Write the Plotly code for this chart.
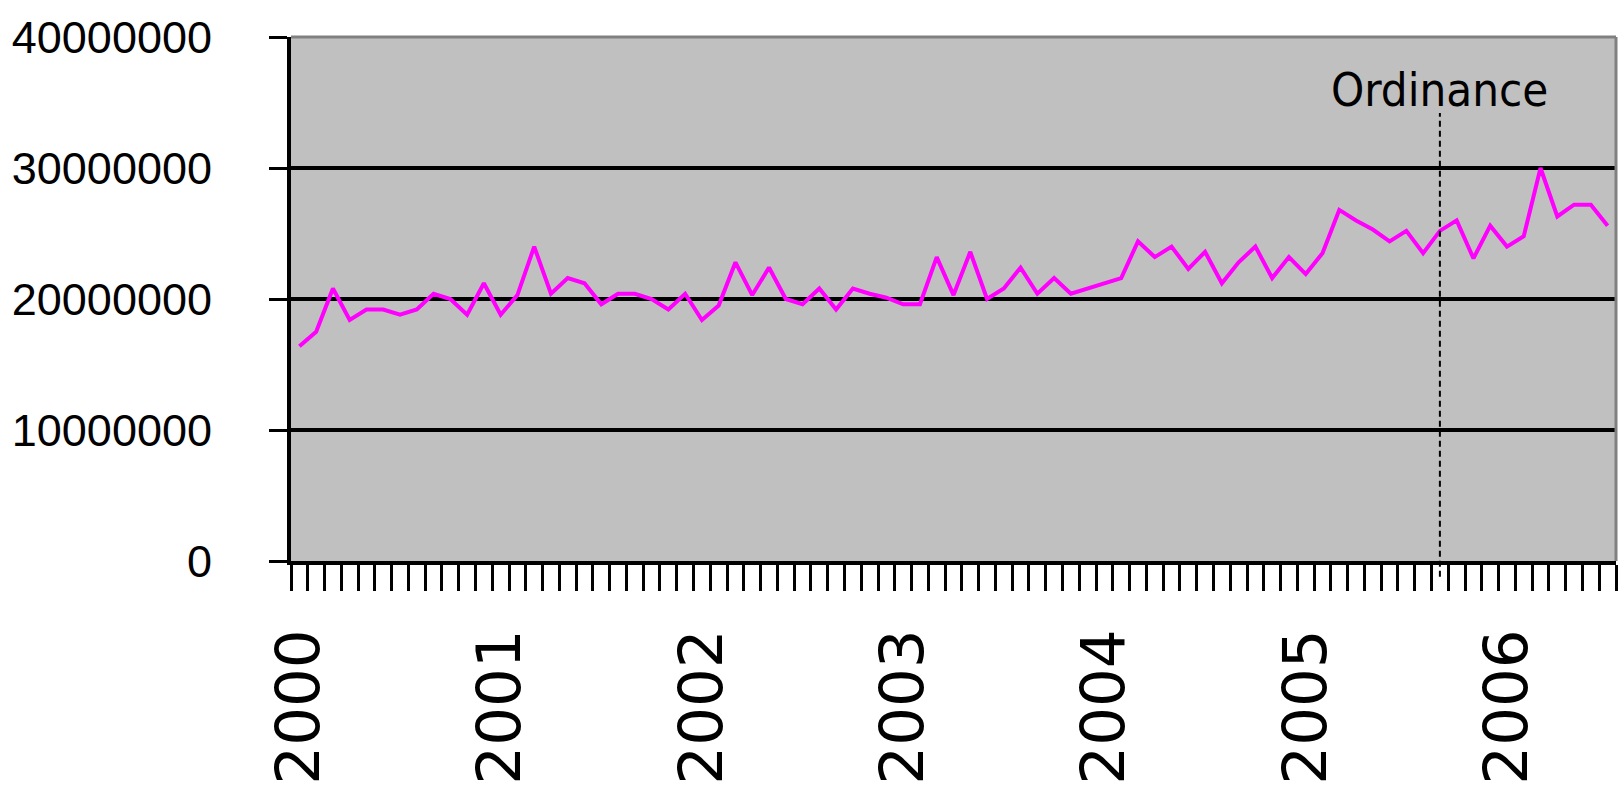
import plotly.graph_objects as go

years = list(range(2000, 2007))
months = [f"{y}-{m:02d}" for y in years for m in range(1, 13)][:79]
values = [
    16.4, 17.5, 20.8, 18.4, 19.2, 19.2, 18.8, 19.2, 20.4, 20.0, 18.8, 21.2,
    18.8, 20.3, 24.0, 20.4, 21.6, 21.2, 19.6, 20.4, 20.4, 20.0, 19.2, 20.4,
    18.4, 19.5, 22.8, 20.3, 22.4, 20.0, 19.6, 20.8, 19.2, 20.8, 20.4, 20.1,
    19.6, 19.6, 23.2, 20.3, 23.6, 20.0, 20.8, 22.4, 20.4, 21.6, 20.4, 20.8,
    21.2, 21.6, 24.4, 23.2, 24.0, 22.3, 23.6, 21.2, 22.8, 24.0, 21.6, 23.2,
    21.9, 23.5, 26.8, 26.0, 25.3, 24.4, 25.2, 23.5, 25.2, 26.0, 23.1, 25.6,
    24.0, 24.8, 30.0, 26.3, 27.2, 27.2, 25.6,
]
values = [v * 1_000_000 for v in values]
tick_text = [m[:4] if m.endswith("-01") else "" for m in months]
y_ticks = [0, 10000000, 20000000, 30000000, 40000000]
ordinance_month = "2005-09"
ordinance_label = "Ordinance"

fig = go.Figure()
fig.add_trace(go.Scatter(
    x=months, y=values, mode="lines",
    line=dict(color="#FF00FF", width=4),
    hoverinfo="skip", showlegend=False,
))

fig.add_shape(type="line", xref="x", yref="paper",
              x0=ordinance_month, x1=ordinance_month, y0=-0.03, y1=0.855,
              line=dict(color="black", width=2, dash="6px,4px"), layer="above")
# gray plot-area border (top & right)
fig.add_shape(type="line", xref="paper", yref="paper", x0=0, x1=1, y0=1, y1=1,
              line=dict(color="#808080", width=3), layer="above")
fig.add_shape(type="line", xref="paper", yref="paper", x0=1, x1=1, y0=0, y1=1,
              line=dict(color="#808080", width=3), layer="above")

fig.add_annotation(x=ordinance_month, y=36000000, xref="x", yref="y",
                   text=ordinance_label, showarrow=False,
                   font=dict(family="DejaVu Sans Condensed, DejaVu Sans", size=47, color="black"),
                   xanchor="center", yanchor="middle")

fig.update_layout(
    width=1619, height=791,
    margin=dict(l=291, r=3, t=37, b=230),
    paper_bgcolor="white", plot_bgcolor="#C0C0C0",
    xaxis=dict(
        type="category", tickmode="array", tickvals=months, ticktext=tick_text,
        tickson="boundaries", ticks="outside", ticklen=26, tickwidth=2.5,
        tickcolor="black", showline=True, linecolor="black", linewidth=4,
        showgrid=False, tickangle=-90, ticklabelstandoff=40, automargin=False,
        tickfont=dict(family="DejaVu Sans", size=61, color="black"),
        range=[-0.5, 78.5],
    ),
    yaxis=dict(
        range=[0, 40000000], tickmode="array", tickvals=y_ticks,
        ticktext=[str(v) for v in y_ticks],
        ticks="outside", ticklen=18, tickwidth=2.5, tickcolor="black",
        showline=True, linecolor="black", linewidth=4,
        showgrid=True, gridcolor="black", gridwidth=4, zeroline=False,
        ticklabelstandoff=48, automargin=False,
        tickfont=dict(family="Liberation Sans, Arial", size=45, color="black"),
    ),
)

fig.write_html(
    "out.html",
    config={"displayModeBar": False},
    post_script="document.body.style.margin='0';document.body.style.overflow='hidden';",
)
